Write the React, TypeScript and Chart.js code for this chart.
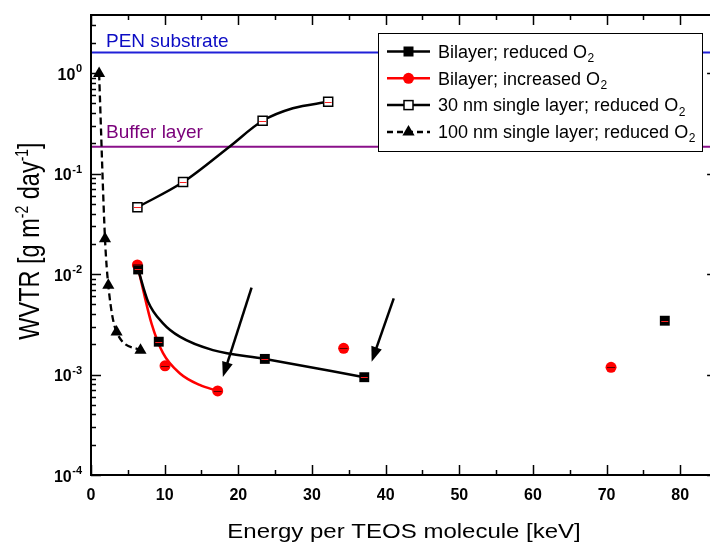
import { useEffect, useRef } from 'react';
import { Chart, registerables } from 'chart.js';

Chart.register(...registerables);

const FONT = '"Liberation Sans", Arial, sans-serif';

// ---- axis ranges / ticks ----
const X_MIN = 0;
const X_MAX = 85;
const Y_MIN = 1e-4;
const Y_MAX = 3.78;
const xTickValues = [0, 10, 20, 30, 40, 50, 60, 70, 80];
const yTickExponents = [-4, -3, -2, -1, 0];

// ---- measured series ----
const bilayerReducedX = [6.4, 9.2, 23.6, 37.1, 77.9];
const bilayerReducedY = [0.0111, 0.00212, 0.00143, 0.00094, 0.00343];

const bilayerIncreasedX = [6.3, 10.05, 17.2, 34.3, 70.6];
const bilayerIncreasedY = [0.0123, 0.00122, 0.000686, 0.00182, 0.00118];

const single30X = [6.3, 12.5, 23.3, 32.2];
const single30Y = [0.0461, 0.0822, 0.335, 0.517];

const single100X = [1.1, 1.9, 2.35, 3.47, 6.72];
const single100Y = [0.99, 0.0225, 0.00772, 0.00265, 0.00174];

// ---- fitted / guide curves ----
const fitReducedX = [6.4, 7.75, 9.78, 12.05, 16.55, 23.64, 37.1];
const fitReducedY = [0.0111, 0.0053, 0.00323, 0.00238, 0.00175, 0.00143, 0.00094];

const fitIncreasedX = [6.3, 7.08, 8.21, 9.78, 12.04, 14.75, 17.2];
const fitIncreasedY = [0.0123, 0.00693, 0.00323, 0.00163, 0.00103, 0.000787, 0.000686];

const fit30X = [6.3, 12.5, 18.8, 23.3, 27.4, 32.2];
const fit30Y = [0.0461, 0.0822, 0.185, 0.335, 0.446, 0.517];

// ---- reference levels ----
const penSubstrateY = 1.6;
const bufferLayerY = 0.185;
const referenceLabels = ['PEN substrate', 'Buffer layer'];

// ---- arrows ----
const arrowStartX = [21.8, 41.1];
const arrowStartY = [0.00731, 0.00573];
const arrowEndX = [17.9, 38.1];
const arrowEndY = [0.000946, 0.00134];

// ---- legend ----
const legendMain = [
  'Bilayer; reduced O',
  'Bilayer; increased O',
  '30 nm single layer; reduced O',
  '100 nm single layer; reduced O',
];
const legendSub = ['2', '2', '2', '2'];

const xTitle = 'Energy per TEOS molecule [keV]';

const pts = (xs: number[], ys: number[]) => xs.map((x, i) => ({ x, y: ys[i] }));

function drawMarker(ctx: CanvasRenderingContext2D, kind: string, x: number, y: number) {
  ctx.save();
  ctx.setLineDash([]);
  if (kind === 'square') {
    ctx.fillStyle = '#000';
    ctx.fillRect(x - 5, y - 5, 10, 10);
  } else if (kind === 'circle') {
    ctx.fillStyle = '#ff0000';
    ctx.beginPath();
    ctx.arc(x, y, 5.5, 0, Math.PI * 2);
    ctx.fill();
  } else if (kind === 'open') {
    ctx.fillStyle = '#fff';
    ctx.strokeStyle = '#000';
    ctx.lineWidth = 1.5;
    ctx.fillRect(x - 4.5, y - 4.5, 9, 9);
    ctx.strokeRect(x - 4.5, y - 4.5, 9, 9);
  } else if (kind === 'triangle') {
    ctx.fillStyle = '#000';
    ctx.beginPath();
    ctx.moveTo(x, y - 7);
    ctx.lineTo(x + 6.1, y + 3.5);
    ctx.lineTo(x - 6.1, y + 3.5);
    ctx.closePath();
    ctx.fill();
  }
  ctx.restore();
}

const overlayPlugin = {
  id: 'overlay',
  afterDatasetsDraw(chart: any) {
    const ctx: CanvasRenderingContext2D = chart.ctx;
    const dashSpec: Record<number, [string, number]> = { 0: ['#ff2020', 3.5], 1: ['#600000', 4], 2: ['#ff2020', 3.5] };
    ctx.save();
    Object.keys(dashSpec).forEach((k) => {
      const idx = Number(k);
      const [col, hw] = dashSpec[idx];
      const meta = chart.getDatasetMeta(idx);
      ctx.strokeStyle = col;
      ctx.lineWidth = 1;
      meta.data.forEach((p: any) => {
        ctx.beginPath();
        ctx.moveTo(p.x - hw, Math.round(p.y) + 0.5);
        ctx.lineTo(p.x + hw, Math.round(p.y) + 0.5);
        ctx.stroke();
      });
    });
    ctx.restore();
  },
  afterDraw(chart: any) {
    const ctx: CanvasRenderingContext2D = chart.ctx;
    const a = chart.chartArea;
    const xs = chart.scales.x;
    const ys = chart.scales.y;
    ctx.save();

    // arrows
    ctx.strokeStyle = '#000';
    ctx.fillStyle = '#000';
    ctx.lineWidth = 2.5;
    for (let i = 0; i < arrowStartX.length; i++) {
      const x1 = xs.getPixelForValue(arrowStartX[i]);
      const y1 = ys.getPixelForValue(arrowStartY[i]);
      const x2 = xs.getPixelForValue(arrowEndX[i]);
      const y2 = ys.getPixelForValue(arrowEndY[i]);
      const ang = Math.atan2(y2 - y1, x2 - x1);
      const hl = 15;
      const hw = 5.5;
      const bx = x2 - hl * Math.cos(ang);
      const by = y2 - hl * Math.sin(ang);
      ctx.beginPath();
      ctx.moveTo(x1, y1);
      ctx.lineTo(bx + 2 * Math.cos(ang), by + 2 * Math.sin(ang));
      ctx.stroke();
      ctx.beginPath();
      ctx.moveTo(x2, y2);
      ctx.lineTo(bx - hw * Math.sin(ang), by + hw * Math.cos(ang));
      ctx.lineTo(bx + hw * Math.sin(ang), by - hw * Math.cos(ang));
      ctx.closePath();
      ctx.fill();
    }

    // frame
    ctx.strokeStyle = '#000';
    ctx.lineWidth = 2;
    ctx.strokeRect(a.left, a.top, a.right - a.left, a.bottom - a.top);

    // x ticks (top & bottom, inward)
    ctx.lineWidth = 1.5;
    for (let v = X_MIN; v <= X_MAX + 1e-9; v += 5) {
      const px = Math.round(xs.getPixelForValue(v)) + 0.5;
      const len = v % 10 === 0 ? 10 : 5;
      ctx.beginPath();
      ctx.moveTo(px, a.bottom);
      ctx.lineTo(px, a.bottom - len);
      ctx.moveTo(px, a.top);
      ctx.lineTo(px, a.top + len);
      ctx.stroke();
    }
    // y ticks (left & right, inward)
    for (const e of yTickExponents) {
      for (let k = 1; k <= 9; k++) {
        const v = k * Math.pow(10, e);
        if (v > Y_MAX || v < Y_MIN) continue;
        const py = Math.round(ys.getPixelForValue(v)) + 0.5;
        const len = k === 1 ? 10 : 5;
        ctx.beginPath();
        ctx.moveTo(a.left, py);
        ctx.lineTo(a.left + len, py);
        ctx.moveTo(a.right, py);
        ctx.lineTo(a.right - len, py);
        ctx.stroke();
      }
    }

    // x tick labels
    ctx.fillStyle = '#000';
    ctx.font = `bold 16px ${FONT}`;
    ctx.textAlign = 'center';
    ctx.textBaseline = 'alphabetic';
    for (const v of xTickValues) {
      ctx.fillText(String(v), xs.getPixelForValue(v), a.bottom + 25);
    }
    // y tick labels 10^n
    for (const e of yTickExponents) {
      const py = ys.getPixelForValue(Math.pow(10, e));
      ctx.font = `bold 11px ${FONT}`;
      const sup = String(e);
      const sw = ctx.measureText(sup).width;
      ctx.textAlign = 'right';
      ctx.fillText(sup, 82, py - 1);
      ctx.font = `bold 16px ${FONT}`;
      ctx.fillText('10', 82 - sw - 0.5, py + 6.5);
    }

    // x title
    ctx.save();
    ctx.translate((a.left + a.right) / 2, 538);
    ctx.scale(1.2, 1);
    ctx.font = `20px ${FONT}`;
    ctx.textAlign = 'center';
    ctx.fillText(xTitle, 0, 0);
    ctx.restore();

    // y title with superscripts
    ctx.save();
    ctx.translate(38.5, 241);
    ctx.rotate(-Math.PI / 2);
    ctx.scale(1, 1.25);
    const parts: [string, boolean][] = [['WVTR [g m', false], ['-2', true], [' day', false], ['-1', true], [']', false]];
    const bigF = `23.5px ${FONT}`;
    const supF = `14px ${FONT}`;
    let total = 0;
    for (const [t, s] of parts) {
      ctx.font = s ? supF : bigF;
      total += ctx.measureText(t).width;
    }
    let cx = -total / 2;
    ctx.textAlign = 'left';
    for (const [t, s] of parts) {
      ctx.font = s ? supF : bigF;
      ctx.fillText(t, cx, s ? -8.5 : 0);
      cx += ctx.measureText(t).width;
    }
    ctx.restore();

    // reference labels
    ctx.font = `19px ${FONT}`;
    ctx.textAlign = 'left';
    ctx.fillStyle = '#0c0cc4';
    ctx.fillText(referenceLabels[0], 106, 46.5);
    ctx.fillStyle = '#7a007a';
    ctx.fillText(referenceLabels[1], 106, 138);

    // legend
    const lx = 378.5, ly = 33.5, lw = 324, lh = 118;
    ctx.fillStyle = '#fff';
    ctx.fillRect(lx, ly, lw, lh);
    ctx.strokeStyle = '#000';
    ctx.lineWidth = 1;
    ctx.strokeRect(lx, ly, lw, lh);
    const kinds = ['square', 'circle', 'open', 'triangle'];
    const cols = ['#000', '#ff0000', '#000', '#000'];
    for (let i = 0; i < legendMain.length; i++) {
      const cy = 51.5 + i * 26.8;
      ctx.strokeStyle = cols[i];
      ctx.lineWidth = 2.5;
      ctx.setLineDash(i === 3 ? [6, 4] : []);
      ctx.beginPath();
      ctx.moveTo(387, cy);
      ctx.lineTo(430, cy);
      ctx.stroke();
      ctx.setLineDash([]);
      drawMarker(ctx, kinds[i], 408.5, cy);
      ctx.fillStyle = '#000';
      ctx.font = `18px ${FONT}`;
      ctx.textAlign = 'left';
      ctx.fillText(legendMain[i], 438, cy + 6.3);
      const w = ctx.measureText(legendMain[i]).width;
      ctx.font = `12px ${FONT}`;
      ctx.fillText(legendSub[i], 438 + w + 0.5, cy + 10.5);
    }

    ctx.restore();
  },
};

export default function App() {
  const ref = useRef<HTMLCanvasElement | null>(null);

  useEffect(() => {
    if (!ref.current) return;
    const lineBase = {
      showLine: true,
      pointRadius: 0,
      pointHoverRadius: 0,
      borderWidth: 2.5,
      cubicInterpolationMode: 'monotone' as const,
      fill: false,
    };
    const chart = new Chart(ref.current, {
      type: 'scatter',
      data: {
        datasets: [
          {
            label: 'Bilayer; reduced O2',
            data: pts(bilayerReducedX, bilayerReducedY),
            pointStyle: 'rect',
            pointRadius: 7,
            backgroundColor: '#000',
            borderColor: '#000',
            borderWidth: 0,
            showLine: false,
            order: 0,
          },
          {
            label: 'Bilayer; increased O2',
            data: pts(bilayerIncreasedX, bilayerIncreasedY),
            pointStyle: 'circle',
            pointRadius: 5.5,
            backgroundColor: '#ff0000',
            borderColor: '#ff0000',
            borderWidth: 0,
            showLine: false,
            order: 0,
          },
          {
            label: '30 nm single layer; reduced O2',
            data: pts(single30X, single30Y),
            pointStyle: 'rect',
            pointRadius: 6.4,
            backgroundColor: '#fff',
            borderColor: '#000',
            borderWidth: 1.5,
            showLine: false,
            order: 0,
          },
          {
            label: '100 nm single layer; reduced O2',
            data: pts(single100X, single100Y),
            pointStyle: 'triangle',
            pointRadius: 7,
            backgroundColor: '#000',
            borderColor: '#000',
            borderWidth: 0,
            showLine: false,
            order: 0,
          },
          {
            label: '100 nm guide',
            data: pts(single100X, single100Y),
            ...lineBase,
            borderWidth: 2.3,
            borderDash: [7, 4],
            borderColor: '#000',
            order: 1,
          },
          { label: 'fit reduced', data: pts(fitReducedX, fitReducedY), ...lineBase, borderColor: '#000', order: 1 },
          { label: 'fit increased', data: pts(fitIncreasedX, fitIncreasedY), ...lineBase, borderColor: '#ff0000', order: 1 },
          { label: 'fit 30 nm', data: pts(fit30X, fit30Y), ...lineBase, borderColor: '#000', order: 1 },
          {
            label: 'PEN substrate',
            data: [{ x: X_MIN, y: penSubstrateY }, { x: X_MAX, y: penSubstrateY }],
            ...lineBase,
            cubicInterpolationMode: 'default' as const,
            borderWidth: 2,
            borderColor: '#2020d8',
            order: 2,
          },
          {
            label: 'Buffer layer',
            data: [{ x: X_MIN, y: bufferLayerY }, { x: X_MAX, y: bufferLayerY }],
            ...lineBase,
            cubicInterpolationMode: 'default' as const,
            borderWidth: 2,
            borderColor: '#8a108a',
            order: 2,
          },
        ],
      },
      options: {
        animation: false,
        responsive: false,
        devicePixelRatio: 1,
        events: [],
        layout: { padding: { left: 91, top: 15, right: 6, bottom: 71 } },
        plugins: { legend: { display: false }, tooltip: { enabled: false }, title: { display: false } },
        scales: {
          x: { type: 'linear', min: X_MIN, max: X_MAX, display: false },
          y: { type: 'logarithmic', min: Y_MIN, max: Y_MAX, display: false },
        },
      },
      plugins: [overlayPlugin],
    });
    return () => chart.destroy();
  }, []);

  return (
    <div
      style={{
        position: 'fixed',
        left: 0,
        top: 0,
        width: 710,
        height: 546,
        overflow: 'hidden',
        background: '#fff',
      }}
    >
      <canvas ref={ref} width={725} height={546} style={{ display: 'block', width: 725, height: 546 }} />
    </div>
  );
}
